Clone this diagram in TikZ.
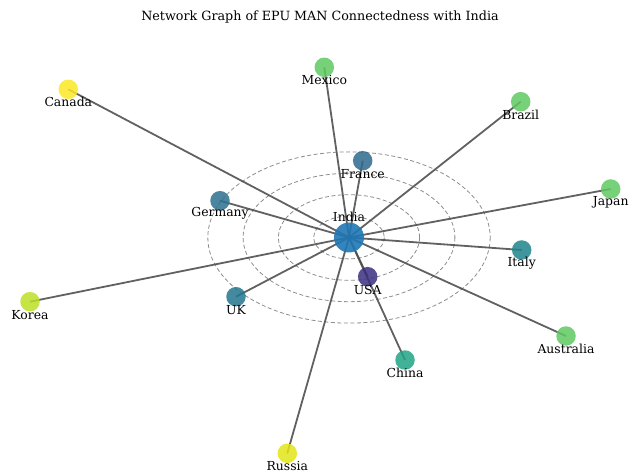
\documentclass[tikz,border=0pt]{standalone}
\usepackage{fontspec}
\setmainfont{DejaVu Serif}
\definecolor{edgegray}{HTML}{505050}
\definecolor{ringgray}{HTML}{8C8C8C}
\definecolor{cIndia}{HTML}{1F77B4}
\definecolor{cFrance}{HTML}{2E6A8E}
\definecolor{cGermany}{HTML}{2D708E}
\definecolor{cUK}{HTML}{23768E}
\definecolor{cItaly}{HTML}{1F848C}
\definecolor{cUSA}{HTML}{3B2F80}
\definecolor{cChina}{HTML}{20A386}
\definecolor{cGreen}{HTML}{5EC962}
\definecolor{cCanada}{HTML}{FDE725}
\definecolor{cRussia}{HTML}{E2E418}
\definecolor{cKorea}{HTML}{BDDF26}
\tikzset{
  x=1pt, y=-1pt,
  country/.style={circle, inner sep=0pt, minimum size=19.5pt, fill opacity=0.85, draw=none},
  hub/.style={circle, inner sep=0pt, minimum size=30pt, fill opacity=0.9, draw=none, fill=cIndia},
  tag/.style={font=\fontsize{12.4}{14}\selectfont, inner sep=0pt, anchor=center},
  link/.style={draw=edgegray, line width=1.8pt, opacity=0.9},
  ring/.style={draw=ringgray, line width=0.8pt, dash pattern=on 4pt off 2.5pt}
}
\begin{document}
\begin{tikzpicture}
\useasboundingbox (0,0) rectangle (630,476);

% concentric guide rings around the hub
\foreach \k in {1,2,3,4}
  \draw[ring] (349,237.5) ellipse [x radius={35.3*\k}, y radius={21.4*\k}];

% node positions
\coordinate (pIndia) at (349,237.5);
\coordinate (pFrance) at (362.7,160.7);
\coordinate (pGermany) at (220,200.7);
\coordinate (pUK) at (236,296.7);
\coordinate (pUSA) at (367.7,276.7);
\coordinate (pItaly) at (521.7,250);
\coordinate (pKorea) at (30,301.7);
\coordinate (pChina) at (405,360);
\coordinate (pCanada) at (68.3,89.3);
\coordinate (pRussia) at (287.3,453.3);
\coordinate (pMexico) at (324.3,67.3);
\coordinate (pBrazil) at (520.7,101.7);
\coordinate (pJapan) at (610.7,189);
\coordinate (pAustralia) at (566,336);

% connectors from the hub
\foreach \c in {France,Germany,UK,USA,Italy,Korea,China,Canada,Russia,Mexico,Brazil,Japan,Australia}
  \draw[link] (pIndia) -- (p\c);

% nodes
\node[hub] (India) at (pIndia) {};
\node[country, fill=cFrance] (France) at (pFrance) {};
\node[country, fill=cGermany] (Germany) at (pGermany) {};
\node[country, fill=cUK] (UK) at (pUK) {};
\node[country, fill=cUSA] (USA) at (pUSA) {};
\node[country, fill=cItaly] (Italy) at (pItaly) {};
\node[country, fill=cKorea] (Korea) at (pKorea) {};
\node[country, fill=cChina] (China) at (pChina) {};
\node[country, fill=cCanada] (Canada) at (pCanada) {};
\node[country, fill=cRussia] (Russia) at (pRussia) {};
\node[country, fill=cGreen] (Mexico) at (pMexico) {};
\node[country, fill=cGreen] (Brazil) at (pBrazil) {};
\node[country, fill=cGreen] (Japan) at (pJapan) {};
\node[country, fill=cGreen] (Australia) at (pAustralia) {};

% labels (yshift is measured upwards on the canvas)
\node[tag] (lIndia) at ([yshift=20.5pt]pIndia) {India};
\foreach \c in {France,Germany,UK,USA,Italy,Korea,China,Canada,Russia,Mexico,Brazil,Japan,Australia}
  \node[tag] (l\c) at ([yshift=-13pt]p\c) {\c};

% title
\node[tag, font=\fontsize{12.7}{15}\selectfont] (title) at (320,17) {Network Graph of EPU MAN Connectedness with India};
\end{tikzpicture}
\end{document}
